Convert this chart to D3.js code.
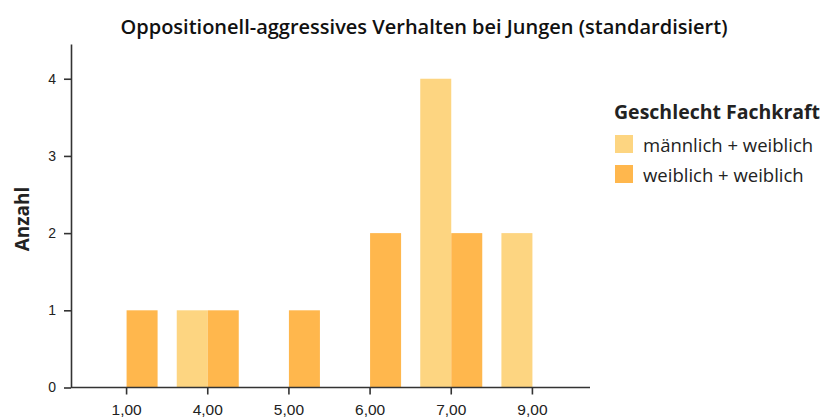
<!DOCTYPE html>
<html>
<head>
<meta charset="utf-8">
<script src="https://cdn.jsdelivr.net/npm/d3@7"></script>
<style>
  body { margin: 0; background: #fff; }
  svg { font-family: "Open Sans", "Noto Sans", sans-serif; }
  .axis path, .axis line { stroke: #333; stroke-width: 1.6; }
  .axis text { fill: #222; }
</style>
</head>
<body>
<svg id="chart" width="825" height="418"></svg>
<script>
const categories = ['1,00', '4,00', '5,00', '6,00', '7,00', '9,00'];
const seriesNames = ['männlich + weiblich', 'weiblich + weiblich'];
const maleFemale = [0, 1, 0, 0, 4, 2];
const femaleFemale = [1, 1, 1, 2, 2, 0];
const yTicks = [0, 1, 2, 3, 4];
const colors = ['#fdd581', '#ffb74d'];

const svg = d3.select('#chart');
const x0 = 71, yBase = 387.5;

// step ~81, bar pair 62 px wide
const x = d3.scaleBand().domain(categories).range([86, 573]).paddingInner(0.236).paddingOuter(0.118);
const xs = d3.scaleBand().domain(seriesNames).range([0, x.bandwidth()]);
const y = d3.scaleLinear().domain([0, 4.45]).range([yBase, 44]);

const rows = categories.map((c, i) => ({ cat: c, vals: [maleFemale[i], femaleFemale[i]] }));

const g = svg.append('g');
rows.forEach(r => {
  r.vals.forEach((v, j) => {
    if (!v) return;
    g.append('rect')
      .attr('x', x(r.cat) + xs(seriesNames[j]))
      .attr('width', xs.bandwidth())
      .attr('y', y(v))
      .attr('height', yBase - y(v))
      .attr('fill', colors[j]);
  });
});

// y axis
const ya = svg.append('g').attr('class', 'axis')
  .attr('transform', `translate(${x0},0)`)
  .call(d3.axisLeft(y).tickValues(yTicks).tickFormat(d3.format('d')).tickSize(7).tickPadding(8).tickSizeOuter(0));
ya.selectAll('text').style('font-size', '14px');

// x axis
svg.append('line').attr('x1', x0).attr('x2', 590).attr('y1', yBase).attr('y2', yBase)
  .attr('stroke', '#333').attr('stroke-width', 1.6);
const xa = svg.append('g').attr('class', 'axis')
  .attr('transform', `translate(0,${yBase})`)
  .call(d3.axisBottom(x).tickSize(7).tickPadding(9).tickSizeOuter(0));
xa.select('.domain').remove();
xa.selectAll('text').style('font-size', '15.5px');

// title
svg.append('text').attr('x', 424).attr('y', 34).attr('text-anchor', 'middle')
  .style('font-size', '20px').style('font-weight', 600).attr('fill', '#111')
  .text('Oppositionell-aggressives Verhalten bei Jungen (standardisiert)');

// y label
svg.append('text').attr('transform', 'translate(29,219) rotate(-90)').attr('text-anchor', 'middle')
  .style('font-size', '19px').style('font-weight', 700).attr('fill', '#222')
  .text('Anzahl');

// legend
const leg = svg.append('g').attr('transform', 'translate(614,0)');
leg.append('text').attr('x', 0).attr('y', 119)
  .style('font-size', '19.5px').style('font-weight', 700).attr('fill', '#222')
  .text('Geschlecht Fachkraft');
seriesNames.forEach((s, i) => {
  leg.append('rect').attr('x', 1).attr('y', 135 + i * 30).attr('width', 18).attr('height', 18).attr('fill', colors[i]);
  leg.append('text').attr('x', 29).attr('y', 152 + i * 30)
    .style('font-size', '18.5px').attr('fill', '#222').text(s);
});
</script>
</body>
</html>
